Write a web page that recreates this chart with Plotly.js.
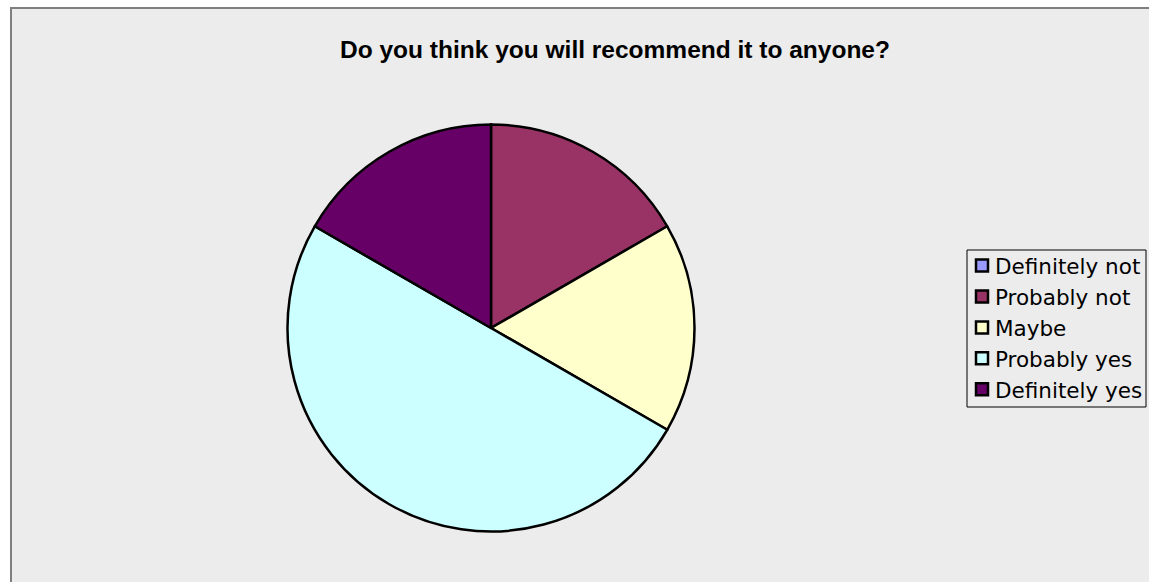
<!DOCTYPE html>
<html>
<head>
<meta charset="utf-8">
<script src="https://cdn.plot.ly/plotly-3.0.1.min.js"></script>
<style>
  html, body { margin: 0; padding: 0; background: #ffffff; overflow: hidden; }
  #frame { position: absolute; left: 10px; top: 7px; width: 1139px; height: 575px;
           border-left: 2px solid #7f7f7f; border-top: 2px solid #7f7f7f; background: #ececec; }
  #chart { width: 1137px; height: 573px; }
  #chart .legendpie { transform: translate(27px, 0px) !important; }
</style>
</head>
<body>
<div id="frame"><div id="chart"></div></div>
<script>
const categories = ["Definitely not", "Probably not", "Maybe", "Probably yes", "Definitely yes"];
const counts = [0, 1, 1, 3, 1];
const sliceColors = ["#9999FF", "#993366", "#FFFFCC", "#CCFFFF", "#660066"];
const chartTitle = "Do you think you will recommend it to anyone?";

const W = 1137, H = 573;
const cx = 479, cy = 319, r = 203.5;

const trace = {
  type: "pie",
  labels: categories,
  values: counts,
  sort: false,
  direction: "clockwise",
  rotation: 0,
  textinfo: "none",
  hoverinfo: "label+value+percent",
  marker: { colors: sliceColors, line: { color: "#000000", width: 2.5 } },
  domain: { x: [(cx - r) / W, (cx + r) / W], y: [(H - cy - r) / H, (H - cy + r) / H] },
  showlegend: true
};

// legend frame (page px 967..1146 x 250..407 -> div coords)
const lb = { x0: 955, x1: 1134, y0: 241, y1: 398 };

const layout = {
  width: W, height: H,
  margin: { l: 0, r: 0, t: 0, b: 0 },
  paper_bgcolor: "#ececec",
  title: {
    text: chartTitle,
    font: { family: "Liberation Sans, Arial, sans-serif", size: 24.5, color: "#000000", weight: "bold" },
    x: 603 / W, xanchor: "center", y: 1 - 40 / H, yanchor: "middle"
  },
  legend: {
    x: 943 / W, xanchor: "left", y: 1 - 236 / H, yanchor: "top",
    bgcolor: "rgba(0,0,0,0)", borderwidth: 0,
    font: { family: "DejaVu Sans, sans-serif", size: 21.5, color: "#000000" },
    traceorder: "normal"
  },
  shapes: [{
    type: "rect", xref: "paper", yref: "paper", layer: "above",
    x0: lb.x0 / W, x1: lb.x1 / W, y0: 1 - lb.y1 / H, y1: 1 - lb.y0 / H,
    line: { color: "#000000", width: 1 }, fillcolor: "rgba(0,0,0,0)"
  }]
};

Plotly.newPlot("chart", [trace], layout, { displayModeBar: false, staticPlot: true });
</script>
</body>
</html>
